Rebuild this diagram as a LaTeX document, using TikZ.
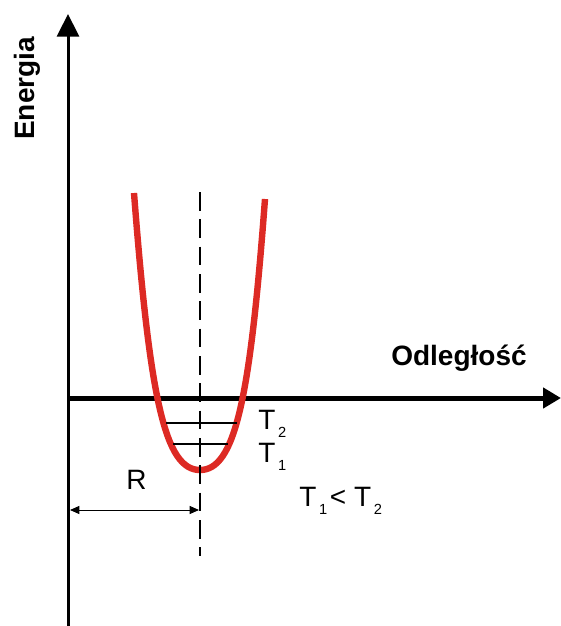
\documentclass[tikz,border=0pt]{standalone}
\usepackage{fontspec}
\setmainfont{Liberation Sans}
\usetikzlibrary{positioning,arrows.meta}
\definecolor{wellred}{RGB}{221,42,36}
\newcommand{\Tsub}[1]{T\hspace{2pt}\raisebox{-6pt}{\fontsize{11}{11}\selectfont #1}}

\begin{document}
\begin{tikzpicture}[x=0.75pt,y=-0.75pt,
  lbl/.style={inner sep=0pt,anchor=base west,font=\fontsize{21}{21}\selectfont},
  axlbl/.style={inner sep=0pt,anchor=base west,font=\fontsize{21}{21}\selectfont\bfseries},
  level/.style={line width=1.8pt}]
\useasboundingbox (0,0) rectangle (561,626);
% axes
\coordinate (ybot) at (68,626);
\coordinate (ytop) at (68,14);
\coordinate (xbeg) at (68,398);
\coordinate (xend) at (561,398);
\draw[line width=2.25pt,-{Triangle[length=17pt,width=16.5pt]}] (ybot) -- (ytop);
\draw[line width=3.75pt,-{Triangle[length=13.5pt,width=15pt]}] (xbeg) -- (xend);
\node[axlbl,rotate=90] (energy) at (35,140) {Energia};
\node[axlbl] (dist) at (391,365) {Odległość};
% well
\coordinate (ltop) at (134,193);
\coordinate (rtop) at (265,199);
\coordinate (bottom) at (200,470);
\draw[wellred,line width=4.8pt] (ltop) .. controls (150,400) and (165,470) .. (bottom)
  .. controls (235,470) and (250,400) .. (rtop);
\coordinate (dtop) at (200,192);
\coordinate (dbot) at (200,556);
\draw[line width=1.5pt,dash pattern=on 14pt off 6.5pt] (dtop) -- (dbot);
% levels
\coordinate (t2a) at (166,423);
\coordinate (t2b) at (237,423);
\coordinate (t1a) at (173,444);
\coordinate (t1b) at (228,444);
\draw[level] (t2a) -- (t2b);
\draw[level] (t1a) -- (t1b);
\node[lbl] (lt2) at (258,429) {\Tsub{2}};
\node[lbl] (lt1) at (258,462) {\Tsub{1}};
\node[lbl] (cmp) at (299,506) {\Tsub{1}\hspace{2pt}<\hspace{6pt}\Tsub{2}};
% R
\coordinate (ra) at (70,510);
\coordinate (rb) at (199,510);
\draw[line width=0.75pt,{Triangle[length=7pt,width=6pt]}-{Triangle[length=7pt,width=6pt]}] (ra) -- (rb);
\node[lbl] (rlbl) at (126,489) {R};
\end{tikzpicture}
\end{document}
